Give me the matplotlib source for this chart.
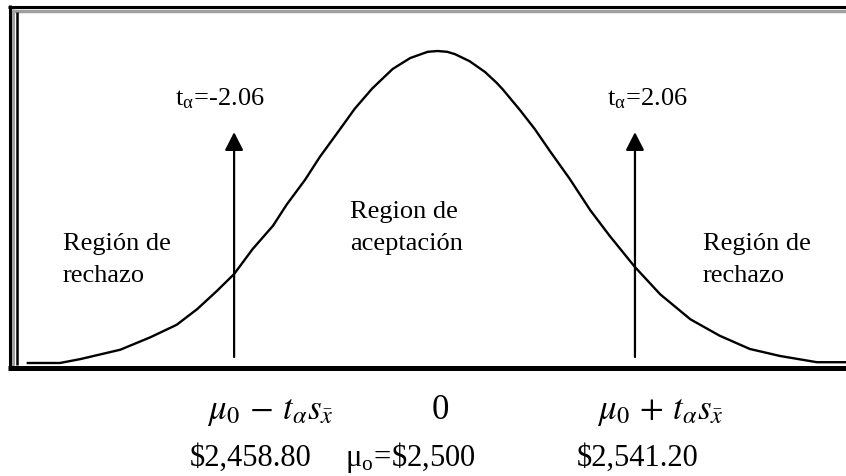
import matplotlib
matplotlib.use("Agg")
import matplotlib.pyplot as plt

# Curva (t en unidades de t, altura tipo densidad)
t_vals = [-4.18, -3.85, -3.64, -3.23, -2.92, -2.65, -2.44, -2.24, -2.06, -1.87,
          -1.66, -1.52, -1.33, -1.18, -0.97, -0.82, -0.64, -0.43, -0.25, -0.07,
          0.03, 0.13, 0.21, 0.36, 0.52, 0.64, 0.70, 0.88, 1.03, 1.19,
          1.39, 1.60, 1.80, 2.06, 2.32, 2.63, 2.93, 3.24, 3.55, 3.93,
          4.23]
densidad = [0.000, 0.000, 0.005, 0.017, 0.033, 0.049, 0.069, 0.092, 0.114, 0.146,
            0.176, 0.203, 0.235, 0.264, 0.300, 0.326, 0.352, 0.377, 0.391, 0.399,
            0.400, 0.399, 0.396, 0.387, 0.373, 0.359, 0.351, 0.324, 0.300, 0.271,
            0.236, 0.196, 0.163, 0.123, 0.088, 0.056, 0.035, 0.018, 0.009, 0.001,
            0.001]

t_criticos = [-2.06, 2.06]
etiquetas_t = ["t$_\\mathregular{α}$=-2.06", "t$_\\mathregular{α}$=2.06"]
formulas = [r"$\mu_0\,-\,t_\alpha s_{\bar{x}}$", "0", r"$\mu_0\,+\,t_\alpha s_{\bar{x}}$"]
valores = ["$2,458.80", "μ$_\\mathregular{o}$=\\$2,500", "$2,541.20"]

plt.rcParams["font.family"] = ["Liberation Serif", "DejaVu Serif"]
plt.rcParams["mathtext.fontset"] = "stix"

W, H = 846, 477
fig = plt.figure(figsize=(W / 100, H / 100), dpi=100)

# capa de decoracion en pixeles
deco = fig.add_axes([0, 0, 1, 1])
deco.set_xlim(0, W)
deco.set_ylim(H, 0)
deco.axis("off")

# marco
deco.plot([8, W], [7.5, 7.5], color="black", lw=2.2, solid_capstyle="butt")
deco.plot([12, W], [12, 12], color="#a0a0a0", lw=2.5, solid_capstyle="butt")
deco.plot([9.5, 9.5], [6, 371], color="black", lw=2.2, solid_capstyle="butt")
deco.plot([13, 13], [10, 367], color="#a0a0a0", lw=2.2, solid_capstyle="butt")
deco.plot([17, 17], [13, 366], color="black", lw=1.8, solid_capstyle="butt")
deco.plot([8, W], [368.5, 368.5], color="black", lw=3.6, solid_capstyle="butt")

# ejes de la curva
ax = fig.add_axes([0, 0, 1, 1])
ax.set_xlim(-4.466, 4.229)
ax.set_ylim(-0.1449, 0.4667)
ax.axis("off")

ax.plot(t_vals, densidad, color="black", lw=1.7, solid_joinstyle="round")

for t in t_criticos:
    ax.annotate("", xy=(t, 0.296), xytext=(t, 0.0077),
                arrowprops=dict(arrowstyle="-|>,head_length=0.55,head_width=0.28",
                                color="black", lw=1.6, mutation_scale=20,
                                shrinkA=0, shrinkB=0))

# textos
deco.text(175, 105, etiquetas_t[0], fontsize=19, ha="left", va="baseline")
deco.text(607, 105, etiquetas_t[1], fontsize=19, ha="left", va="baseline")

deco.text(63, 250, "Región de", fontsize=19, ha="left", va="baseline")
deco.text(63, 282, "rechazo", fontsize=19, ha="left", va="baseline")
deco.text(350, 218, "Region de", fontsize=19, ha="left", va="baseline")
deco.text(350, 250, "aceptación", fontsize=19, ha="left", va="baseline")
deco.text(703, 250, "Región de", fontsize=19, ha="left", va="baseline")
deco.text(703, 282, "rechazo", fontsize=19, ha="left", va="baseline")

x_form = [270, 440, 660]
for x, f in zip(x_form, formulas):
    deco.text(x, 419, f, fontsize=25, ha="center", va="baseline")

x_val = [251, 410, 638]
for x, v in zip(x_val, valores):
    deco.text(x, 466, v, fontsize=22, ha="center", va="baseline")

plt.savefig("out.png", dpi=100)
